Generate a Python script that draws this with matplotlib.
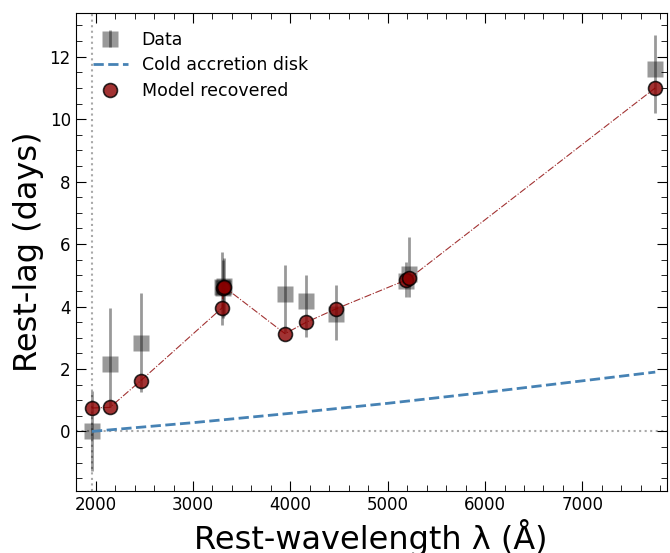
import numpy as np
import matplotlib.pyplot as plt
from matplotlib.ticker import MultipleLocator

# observed lags (rest frame)
wave = [1962, 2147, 2465, 3300, 3312, 3322, 3945, 4160, 4465, 5190, 5222, 7748]
lag = [0.0, 2.17, 2.83, 4.62, 4.58, 4.65, 4.41, 4.18, 3.77, 4.82, 5.05, 11.62]
lag_lo = [1.28, 1.40, 1.57, 1.20, 0.95, 0.95, 1.25, 1.16, 0.85, 0.52, 0.75, 1.42]
lag_hi = [1.30, 1.79, 1.61, 1.13, 0.90, 0.90, 0.92, 0.84, 0.91, 0.60, 1.16, 1.07]

# model recovered lags
model_wave = [1962, 2147, 2465, 3300, 3312, 3322, 3945, 4160, 4465, 5190, 5222, 7748]
model_lag = [0.75, 0.77, 1.63, 3.96, 4.60, 4.62, 3.13, 3.49, 3.92, 4.85, 4.90, 11.0]

# cold accretion disk curve
disk_wave = [1962, 3000, 4000, 5000, 6000, 7000, 7748]
disk_lag = [0.0, 0.28, 0.58, 0.90, 1.25, 1.62, 1.90]

ref_wave = 1962

fig = plt.figure(figsize=(6.7, 5.53), dpi=100)
ax = fig.add_axes([0.113, 0.112, 0.882, 0.864])

ax.axhline(0, color='darkgray', ls=':', lw=1.5, zorder=0)
ax.axvline(ref_wave, color='darkgray', ls=':', lw=1.5, zorder=0)

h_data = ax.errorbar(wave, lag, yerr=[lag_lo, lag_hi], fmt='s', color='k', alpha=0.4,
                     ms=11, mec='none', elinewidth=2, capsize=0, label='Data', zorder=2)
h_disk, = ax.plot(disk_wave, disk_lag, ls='--', color='steelblue', lw=2,
                  label='Cold accretion disk', zorder=3)
ax.plot(model_wave, model_lag, ls='-.', color='darkred', lw=0.8, alpha=0.8, zorder=3)
h_model, = ax.plot(model_wave, model_lag, 'o', ls='none', color='darkred', mec='k', mew=1.2,
                   ms=10, alpha=0.8, label='Model recovered', zorder=4)

ax.set_xlim(1795, 7865)
ax.set_ylim(-1.91, 13.39)
ax.xaxis.set_major_locator(MultipleLocator(1000))
ax.xaxis.set_minor_locator(MultipleLocator(200))
ax.yaxis.set_major_locator(MultipleLocator(2))
ax.yaxis.set_minor_locator(MultipleLocator(0.5))
ax.tick_params(which='both', direction='in', top=True, right=True, labelsize=12)
ax.tick_params(which='major', length=7)
ax.tick_params(which='minor', length=4)

ax.set_xlabel('Rest-wavelength λ (Å)', fontsize=23, labelpad=4)
ax.set_ylabel('Rest-lag (days)', fontsize=23)

ax.legend([h_data, h_disk, h_model], ['Data', 'Cold accretion disk', 'Model recovered'],
          loc='upper left', frameon=False, fontsize=12.5, handlelength=2.0,
          borderaxespad=0.6, labelspacing=0.45)

fig.savefig('out.png', dpi=100)
